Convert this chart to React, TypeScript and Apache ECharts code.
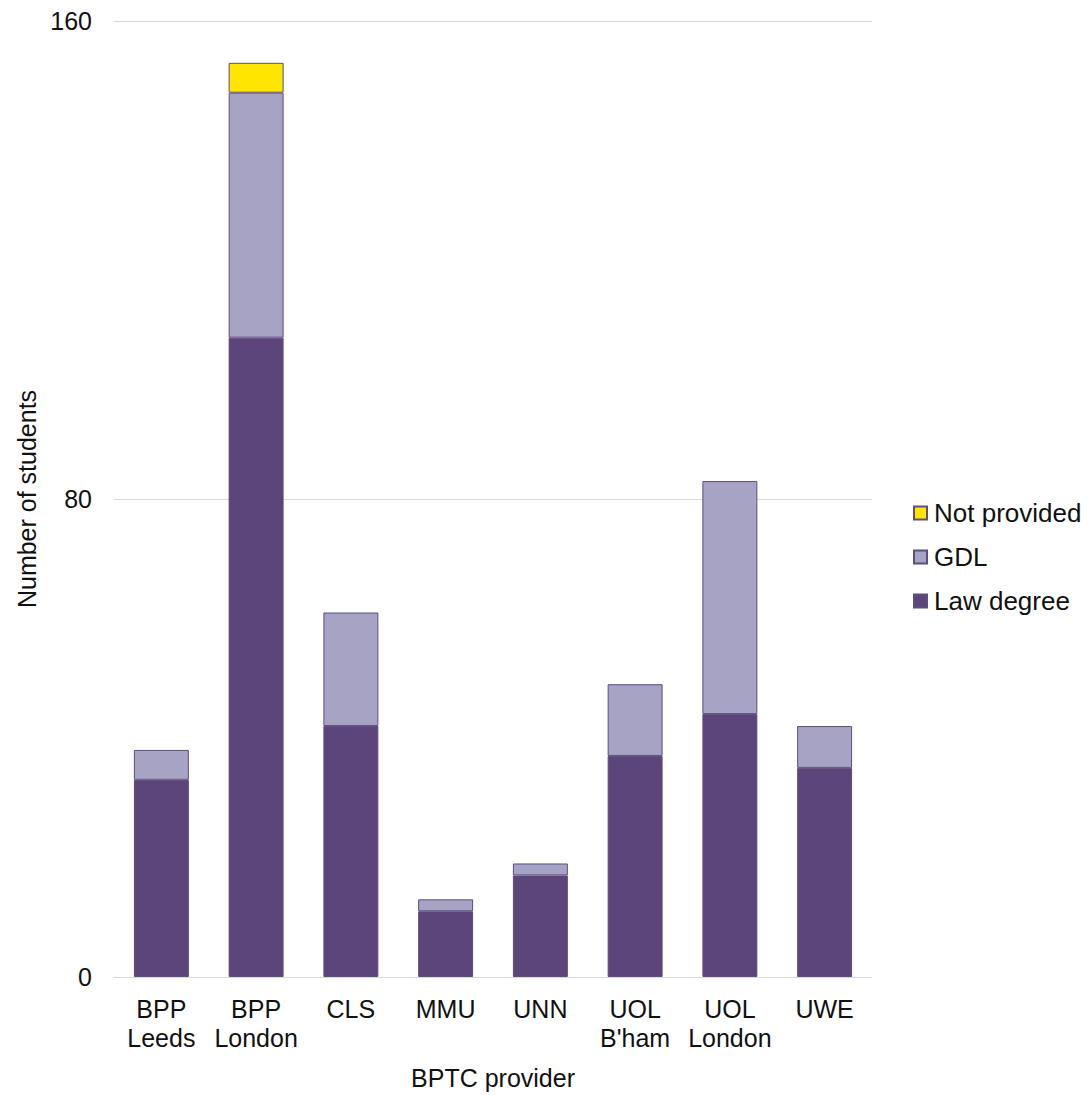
import React, { useEffect, useRef } from "react";
import * as echarts from "echarts";

const categories = ["BPP\nLeeds", "BPP\nLondon", "CLS", "MMU", "UNN", "UOL\nB'ham", "UOL\nLondon", "UWE"];
const lawDegree = [33, 107, 42, 11, 17, 37, 44, 35];
const gdl = [5, 41, 19, 2, 2, 12, 39, 7];
const notProvided = [0, 5, 0, 0, 0, 0, 0, 0];
const yTicks = [0, 80, 160];

const FONT = "Liberation Sans, Arial, sans-serif";
const TXT = "#111111";

export default function App() {
  const ref = useRef<HTMLDivElement>(null);
  useEffect(() => {
    document.body.style.margin = "0";
    const chart = echarts.init(ref.current!, null, { renderer: "svg" });
    const border = { borderColor: "#5f4c80", borderWidth: 1 };
    chart.setOption({
      animation: false,
      textStyle: { fontFamily: FONT },
      grid: { left: 114, right: 216, top: 21, bottom: 118, outerBoundsMode: "none" },
      legend: {
        orient: "vertical",
        left: 908,
        top: 495,
        itemWidth: 13,
        itemHeight: 13,
        itemGap: 18,
        icon: "rect",
        data: ["Not provided", "GDL", "Law degree"],
        textStyle: { fontSize: 26, color: TXT, fontFamily: FONT, padding: [0, 0, 0, 2] },
      },
      xAxis: {
        type: "category",
        data: categories,
        name: "BPTC provider",
        nameLocation: "middle",
        nameGap: 88,
        nameTextStyle: { fontSize: 25, color: TXT, fontFamily: FONT },
        axisLine: { lineStyle: { color: "#d9d9d9" } },
        axisTick: { show: false },
        axisLabel: { fontSize: 25, color: TXT, lineHeight: 29, margin: 17, interval: 0, fontFamily: FONT },
      },
      yAxis: {
        type: "value",
        min: yTicks[0],
        max: yTicks[yTicks.length - 1],
        interval: 80,
        name: "Number of students",
        nameLocation: "middle",
        nameGap: 73,
        nameTextStyle: { fontSize: 25, color: TXT, fontFamily: FONT },
        axisLine: { show: false },
        axisTick: { show: false },
        splitLine: { lineStyle: { color: "#d9d9d9" } },
        axisLabel: { fontSize: 25, color: TXT, margin: 22, fontFamily: FONT },
      },
      series: [
        {
          name: "Law degree",
          type: "bar",
          stack: "s",
          barWidth: "58%",
          data: lawDegree,
          itemStyle: { color: "#5b4579", ...border },
        },
        {
          name: "GDL",
          type: "bar",
          stack: "s",
          data: gdl,
          itemStyle: { color: "#a7a3c5", ...border },
        },
        {
          name: "Not provided",
          type: "bar",
          stack: "s",
          data: notProvided.map((v) => (v === 0 ? null : v)),
          itemStyle: { color: "#ffe500", ...border },
        },
      ],
    });
    return () => chart.dispose();
  }, []);
  return <div ref={ref} style={{ width: 1088, height: 1095 }} />;
}
